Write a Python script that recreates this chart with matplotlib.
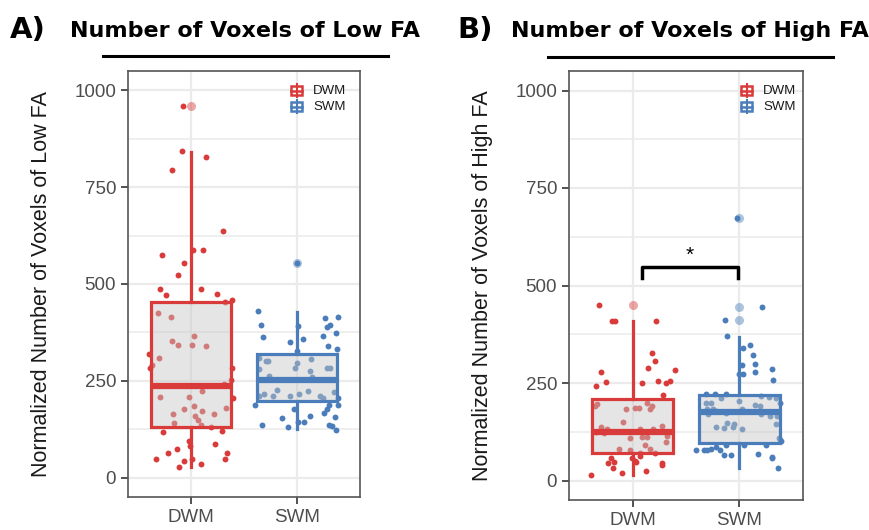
import matplotlib
matplotlib.use("Agg")
import matplotlib.pyplot as plt
from matplotlib.patches import Rectangle
from matplotlib.lines import Line2D

plt.rcParams['font.family'] = ['Liberation Sans', 'DejaVu Sans']

groups = ["DWM", "SWM"]
red = "#D93B3B"
blue = "#4A7DBA"

# box statistics
a_stats = {
    "DWM": dict(whislo=28, q1=131, med=237, q3=453, whishi=841, fliers=[959]),
    "SWM": dict(whislo=126, q1=198, med=253, q3=320, whishi=428, fliers=[553]),
}
b_stats = {
    "DWM": dict(whislo=13, q1=71, med=124, q3=209, whishi=409, fliers=[450]),
    "SWM": dict(whislo=33, q1=97, med=175, q3=219, whishi=368, fliers=[412, 444, 673]),
}

# jittered points: (horizontal offset, value)
a_dwm_pts = [(-0.08, 959), (-0.085, 843), (0.139, 828), (-0.186, 794), (0.30, 637),
             (0.016, 588), (0.114, 587), (-0.278, 575), (-0.07, 554), (-0.123, 523),
             (-0.294, 486), (-0.24, 471), (0.095, 487), (0.246, 475), (0.32, 453),
             (0.385, 458), (-0.313, 426), (-0.196, 415), (0.028, 365), (-0.183, 353),
             (-0.126, 342), (0.006, 343), (0.139, 341), (-0.398, 319), (-0.303, 310),
             (-0.392, 283), (-0.373, 291), (0.382, 283), (0.38, 253), (0.31, 243),
             (0.104, 225), (-0.297, 208), (-0.019, 208), (0.395, 205), (0.022, 186),
             (-0.07, 177), (0.33, 180), (-0.174, 165), (0.098, 173), (0.212, 165),
             (0.035, 158), (-0.161, 142), (0.066, 149), (0.095, 137), (0.183, 131),
             (-0.269, 119), (0.29, 120), (-0.019, 95), (-0.013, 82), (0.225, 88),
             (-0.218, 64), (-0.139, 75), (0.341, 64), (-0.332, 49), (-0.07, 42),
             (0.003, 48), (0.319, 48), (-0.117, 27), (0.095, 36)]
a_swm_pts = [(0.0, 553), (-0.367, 429), (-0.335, 393), (-0.316, 362), (0.013, 391),
             (0.06, 357), (-0.066, 351), (0.006, 327), (0.272, 411), (0.395, 416),
             (0.288, 389), (0.313, 393), (0.246, 367), (0.373, 373), (0.30, 341),
             (0.379, 333), (-0.354, 308), (-0.288, 300), (-0.272, 302), (0.003, 296),
             (0.133, 307), (-0.013, 283), (0.126, 276), (-0.36, 281), (0.284, 284),
             (0.313, 283), (-0.259, 262), (0.145, 259), (-0.19, 227), (-0.313, 216),
             (-0.354, 210), (-0.227, 211), (-0.063, 212), (0.019, 215), (0.104, 225),
             (0.224, 212), (0.351, 221), (0.246, 205), (0.389, 205), (-0.392, 187),
             (-0.025, 178), (0.306, 187), (0.291, 178), (0.256, 168), (0.389, 187),
             (0.363, 156), (-0.142, 154), (-0.332, 137), (-0.085, 132), (0.009, 143),
             (0.069, 144), (0.123, 158), (0.306, 135), (0.338, 134), (0.37, 124)]
b_dwm_pts = [(-0.321, 450), (-0.193, 410), (-0.171, 409), (0.221, 410), (0.181, 328),
             (0.209, 307), (0.14, 288), (-0.302, 279), (0.396, 283), (-0.255, 252),
             (-0.349, 243), (0.09, 249), (0.24, 255), (0.308, 250), (0.352, 254),
             (0.287, 219), (-0.355, 191), (-0.34, 197), (-0.065, 184), (0.025, 186),
             (0.062, 185), (0.137, 200), (0.162, 183), (0.178, 191), (-0.093, 149),
             (-0.299, 137), (-0.246, 131), (-0.349, 125), (0.065, 131), (0.193, 131),
             (0.274, 140), (-0.271, 121), (-0.025, 108), (0.087, 112), (0.134, 112),
             (0.321, 113), (0.308, 100), (-0.128, 81), (-0.025, 79), (0.118, 90),
             (0.159, 82), (0.065, 71), (0.206, 71), (-0.012, 58), (0.069, 63),
             (-0.209, 57), (-0.174, 47), (0.022, 49), (0.031, 48), (-0.237, 45),
             (0.274, 46), (0.271, 41), (-0.19, 32), (-0.106, 19), (0.128, 24),
             (-0.393, 13)]
b_swm_pts = [(-0.016, 674), (0.215, 444), (-0.131, 412), (-0.118, 371), (0.106, 348),
             (0.034, 340), (0.128, 323), (0.146, 300), (0.028, 296), (-0.006, 274),
             (0.034, 274), (0.15, 277), (0.308, 285), (0.321, 258), (-0.312, 221),
             (-0.227, 221), (-0.125, 223), (0.0, 204), (-0.171, 212), (0.209, 217),
             (0.28, 213), (0.343, 212), (0.383, 198), (-0.315, 198), (-0.262, 200),
             (0.146, 194), (0.196, 190), (-0.302, 183), (-0.243, 183), (-0.218, 179),
             (0.031, 183), (-0.125, 174), (0.209, 170), (0.29, 165), (0.358, 165),
             (-0.29, 170), (-0.118, 148), (-0.218, 137), (-0.146, 135), (-0.062, 138),
             (-0.047, 144), (0.031, 131), (0.349, 144), (0.374, 110), (0.386, 105),
             (0.393, 101), (0.255, 92), (-0.121, 90), (-0.215, 87), (-0.405, 77),
             (-0.327, 77), (-0.299, 78), (-0.265, 81), (-0.181, 78), (-0.14, 66),
             (-0.081, 65), (0.047, 90), (0.178, 69), (0.308, 60), (0.312, 57),
             (0.368, 31)]

yticks = [0, 250, 500, 750, 1000]
sig_bracket = dict(x0=1.09, x1=1.985, top=548, bottom=519, label="*")


def panel(ax, stats, pts_list, ylabel):
    colors = [red, blue]
    for i, g in enumerate(groups):
        c = colors[i]
        pts = pts_list[i]
        xs = [i + 1 + p[0] for p in pts]
        ys = [p[1] for p in pts]
        ax.scatter(xs, ys, s=18, color=c, linewidths=0, zorder=2)
        st = dict(stats[g])
        ax.bxp([st], positions=[i + 1], widths=0.76, patch_artist=True,
               showcaps=False, zorder=3,
               boxprops=dict(facecolor=(0.78, 0.78, 0.78, 0.45), edgecolor=c, linewidth=2.3),
               whiskerprops=dict(color=c, linewidth=2.3),
               medianprops=dict(color=c, linewidth=4.5, solid_capstyle='butt'),
               flierprops=dict(marker='o', markerfacecolor=c, markeredgecolor='none',
                               markersize=6.5, alpha=0.45))
    ax.set_xlim(0.4, 2.6)
    ax.set_ylim(-50, 1050)
    ax.set_xticks([1, 2])
    ax.set_xticklabels(groups)
    ax.set_yticks(yticks)
    ax.set_yticks([125, 375, 625, 875], minor=True)
    ax.tick_params(axis='both', which='major', labelsize=13.5, labelcolor='#4d4d4d',
                   color='#333333', length=5, width=1.2)
    ax.tick_params(axis='y', which='minor', length=0)
    ax.grid(True, which='major', color='#ebebeb', linewidth=1.6, zorder=0)
    ax.grid(True, which='minor', axis='y', color='#ebebeb', linewidth=1.1, zorder=0)
    ax.set_axisbelow(True)
    for s in ax.spines.values():
        s.set_color('#555555')
        s.set_linewidth(1.2)
    ax.set_ylabel(ylabel, fontsize=15.5, color='#1a1a1a', labelpad=16)


def legend_key(fig, xc, yc, color, text, xt):
    W, H = 870.0, 530.0
    fig.add_artist(Line2D([xc / W, xc / W], [(H - yc - 6.5) / H, (H - yc + 6.5) / H],
                          color=color, linewidth=1.5, transform=fig.transFigure))
    fig.add_artist(Rectangle(((xc - 5.5) / W, (H - yc - 4.5) / H), 11 / W, 9 / H,
                             facecolor='white', edgecolor=color, linewidth=1.8,
                             transform=fig.transFigure))
    fig.add_artist(Line2D([(xc - 5.5) / W, (xc + 5.5) / W], [(H - yc) / H, (H - yc) / H],
                          color=color, linewidth=1.8, transform=fig.transFigure))
    fig.text(xt / W, (H - yc) / H, text, fontsize=9.5, color='#1a1a1a', va='center')


fig = plt.figure(figsize=(8.7, 5.3), dpi=100)
axA = fig.add_axes([128 / 870, 33 / 530, 232 / 870, 426 / 530])
axB = fig.add_axes([569 / 870, 30 / 530, 234 / 870, 429 / 530])

panel(axA, a_stats, [a_dwm_pts, a_swm_pts], "Normalized Number of Voxels of Low FA")
panel(axB, b_stats, [b_dwm_pts, b_swm_pts], "Normalized Number of Voxels of High FA")

# significance bracket
bx = [sig_bracket["x0"], sig_bracket["x0"], sig_bracket["x1"], sig_bracket["x1"]]
by = [sig_bracket["bottom"], sig_bracket["top"], sig_bracket["top"], sig_bracket["bottom"]]
axB.plot(bx, by, color='black', linewidth=2.5, zorder=5)
axB.text((sig_bracket["x0"] + sig_bracket["x1"]) / 2, sig_bracket["top"] + 5,
         sig_bracket["label"], ha='center', va='bottom', fontsize=15, zorder=5)

# legends
legend_key(fig, 297, 90.5, red, "DWM", 313)
legend_key(fig, 297, 106.5, blue, "SWM", 313)
legend_key(fig, 747, 90.5, red, "DWM", 763)
legend_key(fig, 747, 106.5, blue, "SWM", 763)

# panel titles
fig.text(10 / 870, 1 - 30 / 530, "A)", fontsize=21, fontweight='bold',
         family='DejaVu Sans', va='center')
fig.text(457 / 870, 1 - 30 / 530, "B)", fontsize=21, fontweight='bold',
         family='DejaVu Sans', va='center')
fig.text(245 / 870, 1 - 31 / 530, "Number of Voxels of Low FA", fontsize=16,
         fontweight='bold', family='DejaVu Sans', ha='center', va='center')
fig.text(690 / 870, 1 - 31 / 530, "Number of Voxels of High FA", fontsize=16,
         fontweight='bold', family='DejaVu Sans', ha='center', va='center')
fig.add_artist(Line2D([103 / 870, 388 / 870], [1 - 56 / 530, 1 - 56 / 530],
                      color='black', linewidth=2.2, transform=fig.transFigure))
fig.add_artist(Line2D([548 / 870, 833 / 870], [1 - 57 / 530, 1 - 57 / 530],
                      color='black', linewidth=2.2, transform=fig.transFigure))

fig.savefig("out.png", dpi=100)
